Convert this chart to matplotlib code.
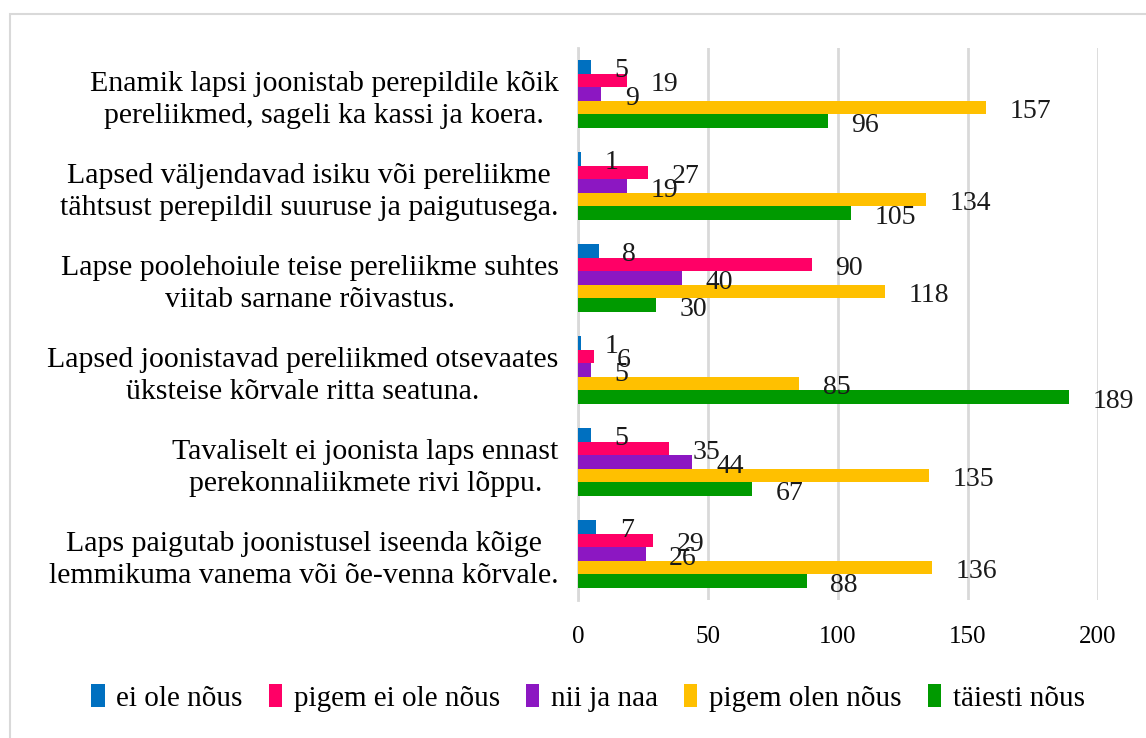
import numpy as np
import matplotlib.pyplot as plt
from matplotlib.patches import Rectangle, Patch

categories = [
    "Enamik lapsi joonistab perepildile kõik\npereliikmed, sageli ka kassi ja koera.",
    "Lapsed väljendavad isiku või pereliikme\ntähtsust perepildil suuruse ja paigutusega.",
    "Lapse poolehoiule teise pereliikme suhtes\nviitab sarnane rõivastus.",
    "Lapsed joonistavad pereliikmed otsevaates\nüksteise kõrvale ritta seatuna.",
    "Tavaliselt ei joonista laps ennast\nperekonnaliikmete rivi lõppu.",
    "Laps paigutab joonistusel iseenda kõige\nlemmikuma vanema või õe-venna kõrvale.",
]

series_names = ["ei ole nõus", "pigem ei ole nõus", "nii ja naa",
                "pigem olen nõus", "täiesti nõus"]

ei_ole = [5, 1, 8, 1, 5, 7]
pigem_ei_ole = [19, 27, 90, 6, 35, 29]
nii_ja_naa = [9, 19, 40, 5, 44, 26]
pigem_olen = [157, 134, 118, 85, 135, 136]
taiesti = [96, 105, 30, 189, 67, 88]

colors = ["#0070C0", "#FF0066", "#8C17C2", "#FFC000", "#009A00"]
x_ticks = [0, 50, 100, 150, 200]

plt.rcParams["font.family"] = ["Liberation Serif", "DejaVu Serif"]

fig = plt.figure(figsize=(11.46, 7.38), dpi=100)

# outer chart frame
fig.patches.append(Rectangle((10 / 1146, -0.05), 1.2, 1 - 14 / 738 + 0.05,
                             transform=fig.transFigure, fill=False,
                             edgecolor="#D9D9D9", linewidth=1.5, zorder=0))

ax = fig.add_axes([578 / 1146, 1 - 600 / 738, 520 / 1146, 552 / 738])

all_series = [ei_ole, pigem_ei_ole, nii_ja_naa, pigem_olen, taiesti]
n_cat = len(categories)
y_base = np.arange(n_cat)
bar_h = 0.148

for i, (vals, col) in enumerate(zip(all_series, colors)):
    y = y_base + (i - 2) * bar_h
    ax.barh(y, vals, height=bar_h, color=col, zorder=3)
    for yy, v in zip(y, vals):
        ax.annotate(str(v), (v, yy), xytext=(17, -3), textcoords="offset points",
                    ha="left", va="center", fontsize=20, color="#1a1a1a",
                    zorder=4)

ax.set_ylim(n_cat - 0.5, -0.5)
ax.set_xlim(0, 200)
ax.set_xticks(x_ticks)
ax.set_xticklabels([str(t) for t in x_ticks], fontsize=18)
ax.set_yticks(y_base)
ax.set_yticklabels(categories, fontsize=21.5, multialignment="center",
                   linespacing=1.3)

ax.tick_params(axis="both", length=0)
ax.tick_params(axis="x", pad=19)
ax.tick_params(axis="y", pad=14)

ax.grid(axis="x", color="#D9D9D9", linewidth=2, zorder=0)
for side in ["top", "right", "bottom"]:
    ax.spines[side].set_visible(False)
ax.spines["left"].set_color("#D9D9D9")
ax.spines["left"].set_linewidth(2)

handles = [Patch(facecolor=c, edgecolor="none") for c in colors]
fig.legend(handles, series_names, loc="center", ncol=5,
           bbox_to_anchor=(588 / 1146, 1 - 698 / 738), frameon=False,
           fontsize=21, handlelength=0.45, handleheight=0.8,
           handletextpad=0.4, columnspacing=0.9)

fig.savefig("out.png", dpi=100)
